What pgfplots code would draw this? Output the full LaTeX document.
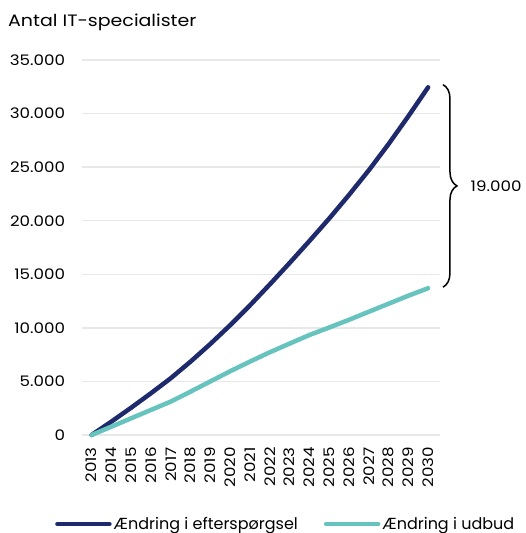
\documentclass[border=0pt]{standalone}
\usepackage{pgfplots}
\pgfplotsset{compat=1.18}
\usetikzlibrary{decorations.pathreplacing}
\usepackage{fontspec}
\setmainfont{Poppins}[FakeStretch=1.15]
\newfontfamily\legfont{Poppins}

\definecolor{navy}{HTML}{1F2A6C}
\definecolor{teal}{HTML}{66C3BD}
\definecolor{gridgray}{HTML}{E8E8E8}

\begin{document}
\begin{tikzpicture}
    % page frame: plot area lower left is at (0,0)
    \path[use as bounding box] (-81.7pt,-98pt) rectangle (443.3pt,435pt);

    \begin{axis}[
        at={(0,0)}, anchor=south west,
        width=358.3pt, height=375pt, scale only axis,
        xmin=2012.5, xmax=2030.6,
        ymin=0, ymax=35000,
        xtick={2013,...,2030},
        ytick={0,5000,...,35000},
        scaled y ticks=false,
        axis line style={draw=none},
        tick style={draw=none},
        major tick length=0pt,
        ymajorgrids,
        major grid style={color=gridgray, line width=1.5pt},
        /pgf/number format/assume math mode=true,
        /pgf/number format/1000 sep={.},
        x tick label style={/pgf/number format/1000 sep={}, yshift=-12pt,
            rotate=90, anchor=east, inner sep=0pt},
        y tick label style={anchor=east, inner sep=0pt, xshift=-16.5pt},
        tick label style={font=\fontsize{14.5}{17}\selectfont},
        clip=false,
        legend columns=2,
        legend style={draw=none, fill=none, inner sep=0pt,
            at={(axis description cs:-0.0745,-0.2373)}, anchor=west,
            font=\legfont\fontsize{16}{19}\selectfont,
            /tikz/every even column/.append style={column sep=24pt}},
        legend image code/.code={\draw[#1] (0pt,0pt) -- (52pt,0pt);},
    ]

    \addplot[navy, line width=4.5pt, line cap=round] coordinates {
        (2013, 0)
        (2014, 1250)
        (2015, 2550)
        (2016, 3900)
        (2017, 5300)
        (2018, 6850)
        (2019, 8500)
        (2020, 10250)
        (2021, 12100)
        (2022, 14050)
        (2023, 16050)
        (2024, 18100)
        (2025, 20200)
        (2026, 22400)
        (2027, 24700)
        (2028, 27150)
        (2029, 29750)
        (2030, 32450)
    };
    \addlegendentry{Ændring i efterspørgsel}

    \addplot[teal, line width=4.5pt, line cap=round] coordinates {
        (2013, 0)
        (2014, 780)
        (2015, 1560)
        (2016, 2340)
        (2017, 3120)
        (2018, 4050)
        (2019, 5000)
        (2020, 5950)
        (2021, 6850)
        (2022, 7720)
        (2023, 8530)
        (2024, 9330)
        (2025, 10030)
        (2026, 10750)
        (2027, 11500)
        (2028, 12250)
        (2029, 13000)
        (2030, 13700)
    };
    \addlegendentry{Ændring i udbud}

    \draw[black, line width=1.5pt, decorate, decoration={brace, amplitude=14pt}]
        (axis cs:2030.75,32700) -- (axis cs:2030.75,13800)
        node[midway, anchor=west, inner sep=0pt, xshift=27pt,
             font=\fontsize{14.5}{17}\selectfont] {19.000};
    \end{axis}

    \node[anchor=base west, inner sep=0pt, font=\fontsize{16.5}{19}\selectfont]
        at (-73.7pt,408pt) {Antal IT-specialister};
\end{tikzpicture}
\end{document}
